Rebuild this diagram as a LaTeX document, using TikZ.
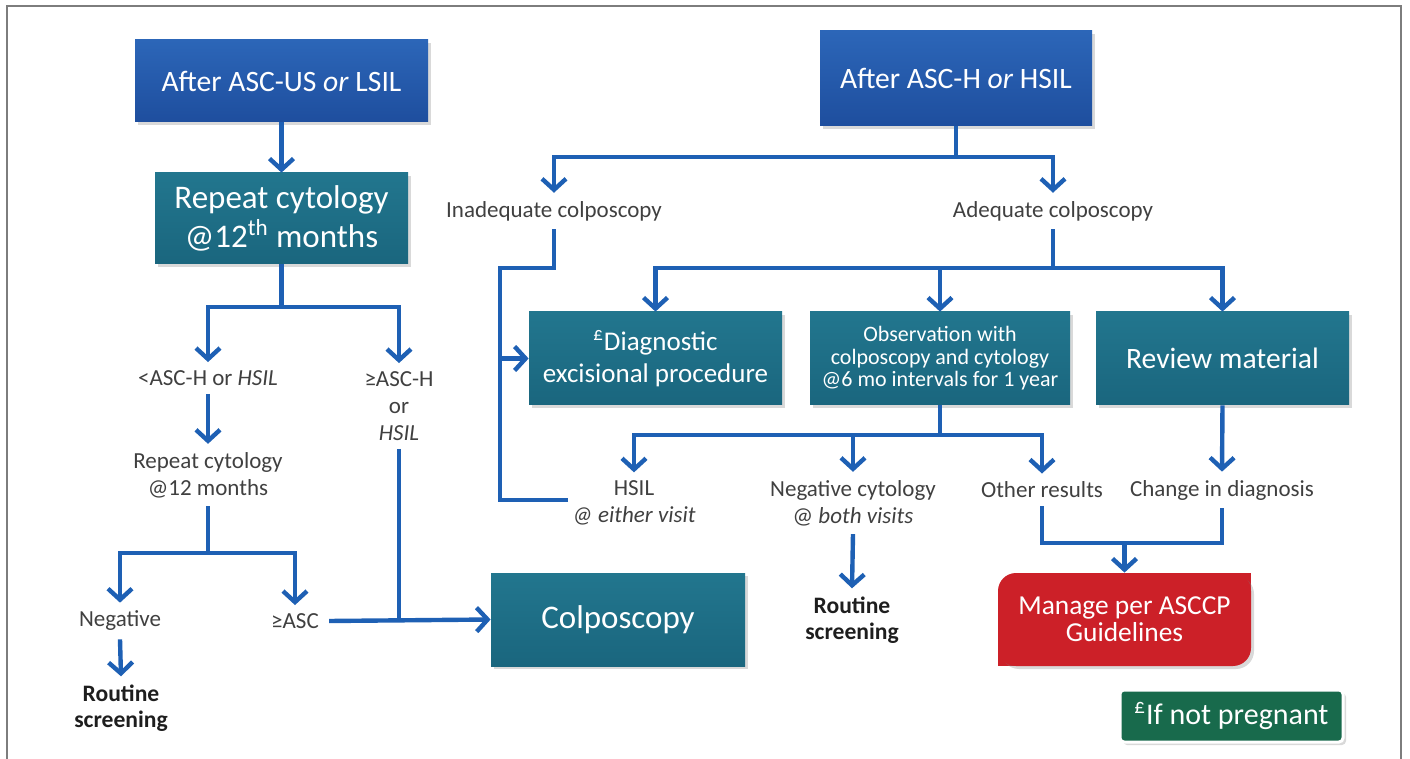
\documentclass[tikz,border=0pt]{standalone}
\usepackage{fontspec}
\setmainfont{Carlito}
\usetikzlibrary{arrows.meta,shadows,backgrounds,calc}

\definecolor{bxBlueTop}{RGB}{44,102,184}
\definecolor{bxBlueBot}{RGB}{30,78,158}
\definecolor{bxTealTop}{RGB}{34,118,142}
\definecolor{bxTealBot}{RGB}{26,102,126}
\definecolor{bxRed}{RGB}{204,32,40}
\definecolor{bxGreen}{RGB}{24,106,76}
\definecolor{lnBlue}{RGB}{30,96,180}
\definecolor{lblGray}{RGB}{64,64,64}
\definecolor{txtDark}{RGB}{30,30,30}
\definecolor{frameGray}{RGB}{125,125,125}

\begin{document}
\begin{tikzpicture}[x=0.5pt,y=-0.5pt,
  box/.style={rectangle, inner sep=0pt, align=center, text=white,
    drop shadow={opacity=0.3,shadow xshift=1.5pt,shadow yshift=-1.5pt}},
  bluebox/.style={box, top color=bxBlueTop, bottom color=bxBlueBot},
  tealbox/.style={box, top color=bxTealTop, bottom color=bxTealBot},
  lbl/.style={align=center, text=lblGray, inner xsep=2pt, inner ysep=4pt,
    font=\fontsize{11.5}{13.5}\selectfont},
  routine/.style={lbl, text=txtDark, font=\fontsize{11.8}{13}\selectfont\bfseries},
  conn/.style={draw=lnBlue, line width=2.2pt},
  arr/.style={-{Straight Barb[length=5.5pt,width=12pt]}}]

\useasboundingbox (0,0) rectangle (1410,759);
% outer frame (open at the bottom)
\draw[frameGray, line width=0.9pt] (7,759) -- (7,6) -- (1401,6) -- (1401,759);

% ---------- boxes ----------
\node[bluebox, minimum width=146.5pt, minimum height=41pt,
  font=\fontsize{14.8}{16}\selectfont] (b1) at (281.5,81)
  {After ASC-US \textit{or} LSIL};
\node[tealbox, minimum width=126.5pt, minimum height=45.5pt,
  font=\fontsize{16.5}{19.5}\selectfont] (b2) at (281.5,218.5)
  {Repeat cytology\\@12\textsuperscript{th} months};
\node[bluebox, minimum width=136pt, minimum height=47.5pt,
  font=\fontsize{14.8}{16}\selectfont] (b3) at (956,78.5)
  {After ASC-H \textit{or} HSIL};
\node[tealbox, minimum width=126.5pt, minimum height=46.5pt,
  font=\fontsize{13.5}{16}\selectfont] (b4) at (655.5,358.5)
  {\textsuperscript{£}Diagnostic\\excisional procedure};
\node[tealbox, minimum width=130pt, minimum height=46.5pt,
  font=\fontsize{11}{11.3}\selectfont] (b5) at (940,358.5)
  {Observation with\\colposcopy and cytology\\@6 mo intervals for 1 year};
\node[tealbox, minimum width=126.5pt, minimum height=46.5pt,
  font=\fontsize{14.8}{16}\selectfont] (b6) at (1222.5,358.5)
  {Review material};
\node[tealbox, minimum width=127pt, minimum height=46.5pt,
  font=\fontsize{16.5}{18}\selectfont] (b7) at (618,619.5)
  {Colposcopy};
\node[box, fill=bxRed, rounded corners=9pt, minimum width=126.5pt,
  minimum height=46.5pt, font=\fontsize{13.7}{13.5}\selectfont] (b8)
  at (1124.5,619.5) {Manage per ASCCP\\Guidelines};
\begin{scope}[on background layer]
  \fill[bxRed] (b8.north east) rectangle ++(-20,20);
  \fill[bxRed] (b8.south west) rectangle ++(20,-20);
\end{scope}
\node[box, fill=bxGreen, draw=white, line width=1.5pt, rounded corners=2pt,
  minimum width=111.5pt, minimum height=26pt,
  font=\fontsize{15}{16}\selectfont] (b9) at (1231.5,716)
  {\textsuperscript{£}If not pregnant};

% ---------- labels ----------
\node[lbl] (lA) at (208,378) {<ASC-H or \textit{HSIL}};
\node[lbl] (lB) at (399,406) {≥ASC-H\\or\\\textit{HSIL}};
\node[lbl] (lC) at (208,475) {Repeat cytology\\@12 months};
\node[lbl] (lD) at (120,621) {Negative};
\node[lbl] (lE) at (295,621) {≥ASC};
\node[routine] (lF) at (121,708) {Routine\\screening};
\node[lbl] (lG) at (554,211) {Inadequate colposcopy};
\node[lbl] (lH) at (1053,211) {Adequate colposcopy};
\node[lbl] (lI) at (634,503) {HSIL\\\textit{@ either visit}};
\node[lbl] (lJ) at (853,503) {Negative cytology\\@ \textit{both visits}};
\node[lbl] (lK) at (1042,490) {Other results};
\node[lbl] (lL) at (1222,490) {Change in diagnosis};
\node[routine] (lM) at (852,620) {Routine\\screening};

% ---------- junction points ----------
\coordinate (j1) at (281.5,307);
\coordinate (j2) at (208,553);
\coordinate (j3) at (956,157);
\coordinate (j4) at (500,268);
\coordinate (j5) at (1053,268);
\coordinate (j6) at (940,435);
\coordinate (j7) at (1124.5,543);

% ---------- connectors: left branch ----------
\draw[conn,arr] (b1.south) -- (b2.north);
\draw[conn] (b2.south) -- (j1);
\draw[conn,arr] (j1) -| (lA.north);
\draw[conn,arr] (j1) -| (lB.north);
\draw[conn,arr] (lA.south) -- (lC.north);
\draw[conn] (lC.south) -- (j2);
\draw[conn,arr] (j2) -| (lD.north);
\draw[conn,arr] (j2) -| (lE.north);
\draw[conn,arr] (lD.south) -- (lF.north);
\draw[conn,arr] (lE.east) ++(6,0) -- (b7.west);
\draw[conn] (lB.south) -- (lB.south |- b7.west);

% ---------- connectors: right branch ----------
\draw[conn] (b3.south) -- (j3);
\draw[conn,arr] (j3) -| (lG.north);
\draw[conn,arr] (j3) -| (lH.north);
\draw[conn] (lI.west |- 0,500) -| (j4) -- (lG.south |- j4) -- (lG.south);
\draw[conn,arr] (b4.west -| j4) -- (b4.west);
\draw[conn] (lH.south) -- (j5);
\draw[conn,arr] (j5) -| (b4.north);
\draw[conn,arr] (j5) -| (b5.north);
\draw[conn,arr] (j5) -| (b6.north);
\draw[conn] (b5.south) -- (j6);
\draw[conn,arr] (j6) -| (lI.north);
\draw[conn,arr] (j6) -| (lJ.north);
\draw[conn,arr] (j6) -| (lK.north);
\draw[conn,arr] (b6.south) -- (lL.north);
\draw[conn] (lK.south) |- (j7);
\draw[conn] (lL.south) |- (j7);
\draw[conn,arr] (j7) -- (b8.north);
\draw[conn,arr] (lJ.south) -- (lM.north);
\end{tikzpicture}
\end{document}
